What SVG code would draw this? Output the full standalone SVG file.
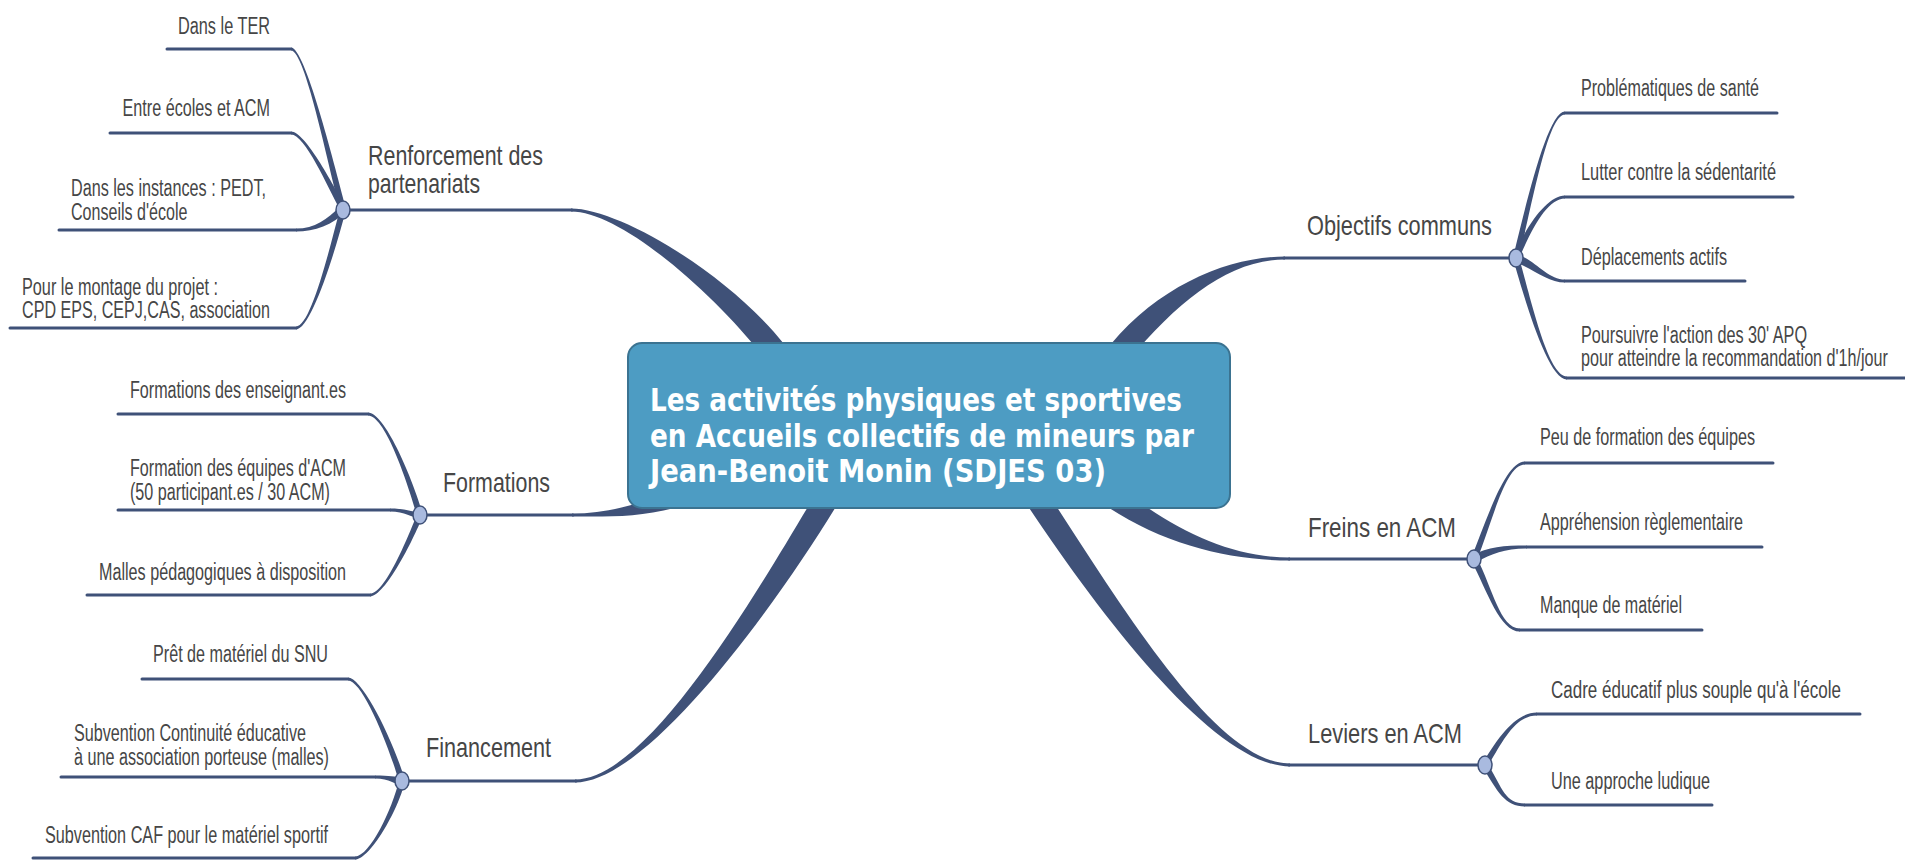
<svg xmlns="http://www.w3.org/2000/svg" width="1905" height="860" viewBox="0 0 1905 860">
<style>
.br{fill:#3f5178;stroke:none}
.ln{fill:none;stroke:#3f5178;stroke-width:3;stroke-linecap:round}
.hub{fill:#a9badf;stroke:#3f5178;stroke-width:1.5}
.sub{font-family:"Liberation Sans",Arial,sans-serif;font-size:23px;fill:#464646}
.main{font-family:"Liberation Sans",Arial,sans-serif;font-size:28px;fill:#464646}
.ctext{font-family:"DejaVu Sans","Liberation Sans",sans-serif;font-weight:bold;font-size:32px;fill:#ffffff}
</style>
<rect width="1905" height="860" fill="#ffffff"/>
<g id="connectors">
  <!-- main branches -->
  <path class="br" d="M784.4,344.6 C729.4,274.6 620,208.5 571,208.5 L571,211.5 C620,211.5 710.6,289.4 765.6,359.4 Z"/>
  <path class="br" d="M1129.2,359.7 C1179.2,299.7 1230,259.5 1285,259.5 L1285,256.5 C1230,256.5 1160.8,284.3 1110.8,344.3 Z"/>
  <path class="br" d="M696.7,481.6 C646.7,501.6 615,513.5 572,513.5 L572,516.5 C615,516.5 653.3,518.4 703.3,498.4 Z"/>
  <path class="br" d="M821.7,483.8 C761.7,583.8 650,779.5 575,779.5 L575,782.5 C650,782.5 782.3,596.2 842.3,496.2 Z"/>
  <path class="br" d="M1077.2,484.2 C1142.2,539.2 1220,560.5 1290,560.5 L1290,557.5 C1220,557.5 1157.8,520.8 1092.8,465.8 Z"/>
  <path class="br" d="M1015,486.6 C1100,616.6 1215,766.5 1290,766.5 L1290,763.5 C1215,763.5 1120,603.4 1035,473.4 Z"/>
  <!-- hub stems -->
  <path class="ln" d="M343,210 L572,210"/>
  <path class="ln" d="M420,515 L573,515"/>
  <path class="ln" d="M402,781 L576,781"/>
  <path class="ln" d="M1284,258 L1516,258"/>
  <path class="ln" d="M1289,559 L1474,559"/>
  <path class="ln" d="M1289,765 L1485,765"/>
  <!-- underlines -->
  <path class="ln" d="M167,49 L291,49"/>
  <path class="ln" d="M110,133 L291,133"/>
  <path class="ln" d="M59,230 L296,230"/>
  <path class="ln" d="M10,328 L296,328"/>
  <path class="ln" d="M118,414 L368,414"/>
  <path class="ln" d="M118,510 L390,510"/>
  <path class="ln" d="M87,595 L370,595"/>
  <path class="ln" d="M142,679 L348,679"/>
  <path class="ln" d="M61,777 L375,777"/>
  <path class="ln" d="M33,858 L355,858"/>
  <path class="ln" d="M1565,113 L1777,113"/>
  <path class="ln" d="M1565,197 L1793,197"/>
  <path class="ln" d="M1565,281 L1745,281"/>
  <path class="ln" d="M1567,378 L1905,378"/>
  <path class="ln" d="M1525,463 L1773,463"/>
  <path class="ln" d="M1527,547 L1762,547"/>
  <path class="ln" d="M1520,630 L1702,630"/>
  <path class="ln" d="M1537,714 L1860,714"/>
  <path class="ln" d="M1525,805 L1712,805"/>
  <!-- tapered sub-branches -->
  <path class="br" d="M291,47.5 C305,47.5 332.9,159.2 345.9,208.2 L340.1,209.8 C327.1,160.8 305,50.5 291,50.5 Z"/>
  <path class="br" d="M291,131.5 C305,131.5 332.6,183.6 345.6,207.6 L340.4,210.4 C327.4,186.4 305,134.5 291,134.5 Z"/>
  <path class="br" d="M296,228.5 C315,228.5 327.2,219.2 340.2,206.2 L345.8,211.8 C332.8,224.8 315,231.5 296,231.5 Z"/>
  <path class="br" d="M296,326.5 C310,326.5 327.1,259.3 340.1,208.3 L345.9,209.7 C332.9,260.7 310,329.5 296,329.5 Z"/>
  <path class="br" d="M368,412.5 C385,412.5 412.9,479.2 422.9,514.2 L417.1,515.8 C407.1,480.8 385,415.5 368,415.5 Z"/>
  <path class="br" d="M390,508.5 C405,508.5 412,512 420,512 L420,518 C412,518 405,511.5 390,511.5 Z"/>
  <path class="br" d="M370,593.5 C385,593.5 407.2,538.9 417.2,513.9 L422.8,516.1 C412.8,541.1 385,596.5 370,596.5 Z"/>
  <path class="br" d="M348,677.5 C362,677.5 392.9,739.2 404.9,780.2 L399.1,781.8 C387.1,740.8 362,680.5 348,680.5 Z"/>
  <path class="br" d="M375,775.5 C390,775.5 395,777 402,777 L402,785 C395,785 390,778.5 375,778.5 Z"/>
  <path class="br" d="M355,856.5 C370,856.5 392.1,809.3 399.1,780.3 L404.9,781.7 C397.9,810.7 370,859.5 355,859.5 Z"/>
  <path class="br" d="M1565,114.5 C1548,114.5 1532.9,200.7 1518.9,258.7 L1513.1,257.3 C1527.1,199.3 1548,111.5 1565,111.5 Z"/>
  <path class="br" d="M1565,198.5 C1548,198.5 1532.8,226.2 1518.8,259.2 L1513.2,256.8 C1527.2,223.8 1548,195.5 1565,195.5 Z"/>
  <path class="br" d="M1565,282.5 C1548,282.5 1533.6,268.8 1514.6,261.8 L1517.4,254.2 C1536.4,261.2 1548,279.5 1565,279.5 Z"/>
  <path class="br" d="M1567,379.5 C1548,379.5 1525.1,300.8 1513.1,258.8 L1518.9,257.2 C1530.9,299.2 1548,376.5 1567,376.5 Z"/>
  <path class="br" d="M1525,464.5 C1505,464.5 1492.8,521.1 1476.8,560.1 L1471.2,557.9 C1487.2,518.9 1505,461.5 1525,461.5 Z"/>
  <path class="br" d="M1527,548.5 C1505,548.5 1492,553.5 1476,562.5 L1472,555.5 C1488,546.5 1505,545.5 1527,545.5 Z"/>
  <path class="br" d="M1520,631.5 C1500,631.5 1487.3,591.4 1471.3,560.4 L1476.7,557.6 C1492.7,588.6 1500,628.5 1520,628.5 Z"/>
  <path class="br" d="M1537,715.5 C1515,715.5 1502.6,741.5 1487.6,766.5 L1482.4,763.5 C1497.4,738.5 1515,712.5 1537,712.5 Z"/>
  <path class="br" d="M1525,806.5 C1505,806.5 1497.4,791.5 1482.4,766.5 L1487.6,763.5 C1502.6,788.5 1505,803.5 1525,803.5 Z"/>
</g>
<g id="center">
  <rect x="628" y="343" width="602" height="165" rx="14" fill="#4d9cc3" stroke="#3b7391" stroke-width="2"/>
  <text class="ctext" x="650" y="411" textLength="532" lengthAdjust="spacingAndGlyphs">Les activités physiques et sportives</text>
  <text class="ctext" x="650" y="447" textLength="544" lengthAdjust="spacingAndGlyphs">en Accueils collectifs de mineurs par</text>
  <text class="ctext" x="650" y="482" textLength="456" lengthAdjust="spacingAndGlyphs">Jean-Benoit Monin (SDJES 03)</text>
</g>
<g id="renforcement">
  <text class="main" x="368" y="165" textLength="175" lengthAdjust="spacingAndGlyphs">Renforcement des</text>
  <text class="main" x="368" y="193" textLength="112" lengthAdjust="spacingAndGlyphs">partenariats</text>
  <ellipse class="hub" cx="343" cy="210" rx="7" ry="9"/>
</g>
<g id="r-ter"><text class="sub" x="178" y="34" textLength="92" lengthAdjust="spacingAndGlyphs">Dans le TER</text></g>
<g id="r-ecoles"><text class="sub" x="122.5" y="116" textLength="147.5" lengthAdjust="spacingAndGlyphs">Entre écoles et ACM</text></g>
<g id="r-instances">
  <text class="sub" x="71" y="196" textLength="195" lengthAdjust="spacingAndGlyphs">Dans les instances : PEDT,</text>
  <text class="sub" x="71" y="220" textLength="116.5" lengthAdjust="spacingAndGlyphs">Conseils d'école</text>
</g>
<g id="r-montage">
  <text class="sub" x="22" y="295" textLength="196" lengthAdjust="spacingAndGlyphs">Pour le montage du projet :</text>
  <text class="sub" x="22" y="318" textLength="248" lengthAdjust="spacingAndGlyphs">CPD EPS, CEPJ,CAS, association</text>
</g>
<g id="formations">
  <text class="main" x="443" y="492" textLength="107" lengthAdjust="spacingAndGlyphs">Formations</text>
  <ellipse class="hub" cx="420" cy="515" rx="7" ry="9"/>
</g>
<g id="f-enseignants"><text class="sub" x="130" y="398" textLength="216" lengthAdjust="spacingAndGlyphs">Formations des enseignant.es</text></g>
<g id="f-equipes">
  <text class="sub" x="130" y="476" textLength="216" lengthAdjust="spacingAndGlyphs">Formation des équipes d'ACM</text>
  <text class="sub" x="130" y="500" textLength="200" lengthAdjust="spacingAndGlyphs">(50 participant.es / 30 ACM)</text>
</g>
<g id="f-malles"><text class="sub" x="99" y="580" textLength="247" lengthAdjust="spacingAndGlyphs">Malles pédagogiques à disposition</text></g>
<g id="financement">
  <text class="main" x="426" y="757" textLength="125" lengthAdjust="spacingAndGlyphs">Financement</text>
  <ellipse class="hub" cx="402" cy="781" rx="7" ry="9"/>
</g>
<g id="fi-snu"><text class="sub" x="153" y="662" textLength="175" lengthAdjust="spacingAndGlyphs">Prêt de matériel du SNU</text></g>
<g id="fi-continuite">
  <text class="sub" x="74" y="741" textLength="232" lengthAdjust="spacingAndGlyphs">Subvention Continuité éducative</text>
  <text class="sub" x="74" y="765" textLength="255" lengthAdjust="spacingAndGlyphs">à une association porteuse (malles)</text>
</g>
<g id="fi-caf"><text class="sub" x="45" y="843" textLength="283" lengthAdjust="spacingAndGlyphs">Subvention CAF pour le matériel sportif</text></g>
<g id="objectifs">
  <text class="main" x="1307" y="235" textLength="185" lengthAdjust="spacingAndGlyphs">Objectifs communs</text>
  <ellipse class="hub" cx="1516" cy="258" rx="7" ry="9"/>
</g>
<g id="o-sante"><text class="sub" x="1581" y="96" textLength="178" lengthAdjust="spacingAndGlyphs">Problématiques de santé</text></g>
<g id="o-sedentarite"><text class="sub" x="1581" y="180" textLength="195" lengthAdjust="spacingAndGlyphs">Lutter contre la sédentarité</text></g>
<g id="o-deplacements"><text class="sub" x="1581" y="265" textLength="146" lengthAdjust="spacingAndGlyphs">Déplacements actifs</text></g>
<g id="o-apq">
  <text class="sub" x="1581" y="343" textLength="226" lengthAdjust="spacingAndGlyphs">Poursuivre l'action des 30' APQ</text>
  <text class="sub" transform="matrix(0.701,0,0,1,1581,366)">pour atteindre la recommandation d'1h/jour</text>
</g>
<g id="freins">
  <text class="main" x="1308" y="537" textLength="148" lengthAdjust="spacingAndGlyphs">Freins en ACM</text>
  <ellipse class="hub" cx="1474" cy="559" rx="7" ry="9"/>
</g>
<g id="fr-formation"><text class="sub" x="1540" y="445" textLength="215" lengthAdjust="spacingAndGlyphs">Peu de formation des équipes</text></g>
<g id="fr-reglementaire"><text class="sub" x="1540" y="530" textLength="203" lengthAdjust="spacingAndGlyphs">Appréhension règlementaire</text></g>
<g id="fr-materiel"><text class="sub" x="1540" y="613" textLength="142" lengthAdjust="spacingAndGlyphs">Manque de matériel</text></g>
<g id="leviers">
  <text class="main" x="1308" y="743" textLength="154" lengthAdjust="spacingAndGlyphs">Leviers en ACM</text>
  <ellipse class="hub" cx="1485" cy="765" rx="7" ry="9"/>
</g>
<g id="l-cadre"><text class="sub" transform="matrix(0.739,0,0,1,1551,698)">Cadre éducatif plus souple qu'à l'école</text></g>
<g id="l-ludique"><text class="sub" x="1551" y="789" textLength="159" lengthAdjust="spacingAndGlyphs">Une approche ludique</text></g>
</svg>
